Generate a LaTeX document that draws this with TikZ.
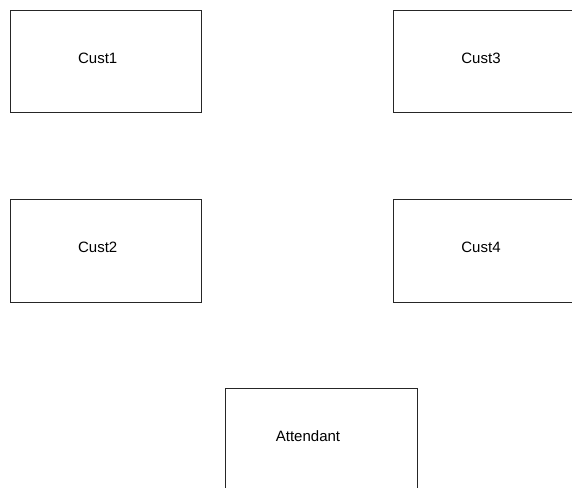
\documentclass[tikz,border=0pt]{standalone}
\usepackage{fontspec}
\setmainfont{Liberation Sans}
\begin{document}
\begin{tikzpicture}[x=1pt,y=-1pt,
  boxst/.style={draw=black!85,line width=0.8pt,rectangle,inner sep=0pt,anchor=north west},
  lbl/.style={font=\fontsize{15}{18}\selectfont,inner sep=0pt,text=black}]
\useasboundingbox (0,0) rectangle (572,487);
\clip (0,0) rectangle (572,487);
\node[boxst,minimum width=191pt,minimum height=102pt] (c1) at (10,10) {};
\node[boxst,minimum width=191pt,minimum height=103pt] (c2) at (10,199) {};
\node[boxst,minimum width=191pt,minimum height=102pt] (c3) at (393,10) {};
\node[boxst,minimum width=191pt,minimum height=103pt] (c4) at (393,199) {};
\node[boxst,minimum width=192pt,minimum height=102pt] (at) at (225,388) {};
\node[lbl] (c1t) at (97.7,58.5) {Cust1};
\node[lbl] (c2t) at (97.7,247.5) {Cust2};
\node[lbl] (c3t) at (481,58.5) {Cust3};
\node[lbl] (c4t) at (481,247.5) {Cust4};
\node[lbl] (att) at (308,436) {Attendant};
\end{tikzpicture}
\end{document}
